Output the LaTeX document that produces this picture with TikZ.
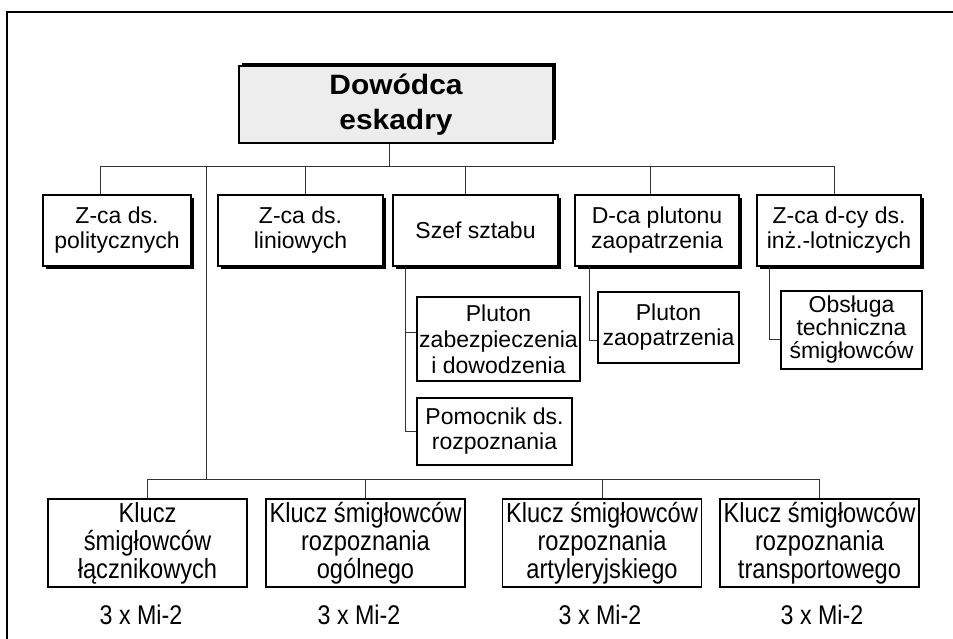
\documentclass[tikz,border=0pt]{standalone}
\usepackage{fontspec}
\setmainfont{Liberation Sans}
\newfontfamily\narrowfont[FakeStretch=0.86]{Liberation Sans}
\newfontfamily\widefont[FakeStretch=1.07]{Liberation Sans}
\usetikzlibrary{shadows}

\tikzset{
  unit/.style={draw, line width=1.3pt, fill=white, align=center, inner sep=0pt,
    font=\fontsize{23}{25}\selectfont},
  staff/.style={unit, minimum height=71pt,
    drop shadow={shadow xshift=3pt, shadow yshift=-3pt, opacity=1, fill=black}},
  chief/.style={unit, fill=black!7, font=\widefont\fontsize{28}{35}\selectfont\bfseries,
    drop shadow={shadow xshift=3pt, shadow yshift=3pt, opacity=1, fill=black}},
  flight/.style={unit, minimum width=199pt, minimum height=88pt,
    font=\narrowfont\fontsize{27.5}{28}\selectfont},
  count/.style={font=\narrowfont\fontsize{27}{28}\selectfont, inner sep=0pt},
  conn/.style={line width=0.8pt, black!80},
}

\begin{document}
\begin{tikzpicture}[x=1pt, y=-1pt]

    \useasboundingbox (0,0) rectangle (953,639);

    % Frame of the scan
    \draw[line width=1.5pt] (7,639) -- (7,12) -- (953,12);

    % Commander
    \node[chief, minimum width=314pt, minimum height=77pt] (chief) at (396,104.5) {Dowódca\\eskadry};

    % Deputies and staff
    \node[staff, minimum width=148pt] (polit) at (117,230.5) {Z-ca ds.\\politycznych};
    \node[staff, minimum width=165pt] (lin) at (300.5,230.5) {Z-ca ds.\\liniowych};
    \node[staff, minimum width=165pt] (szef) at (475.5,230.5) {Szef sztabu};
    \node[staff, minimum width=164pt] (zaop) at (657,230.5) {D-ca plutonu\\zaopatrzenia};
    \node[staff, minimum width=164pt] (inz) at (839,230.5) {Z-ca d-cy ds.\\inż.-lotniczych};

    % Subordinate units
    \node[unit, minimum width=163pt, minimum height=84pt, font=\fontsize{23}{26}\selectfont] (pzd) at (498.5,339) {Pluton\\zabezpieczenia\\i dowodzenia};
    \node[unit, minimum width=155pt, minimum height=67pt] (rozp) at (494.5,431.5) {Pomocnik ds.\\rozpoznania};
    \node[unit, minimum width=141pt, minimum height=71pt] (pzp) at (668.5,327.5) {Pluton\\zaopatrzenia};
    \node[unit, minimum width=141pt, minimum height=78pt, font=\fontsize{23}{23}\selectfont] (obsl) at (851.5,330) {Obsługa\\techniczna\\śmigłowców};

    % Helicopter flights
    \node[flight] (kl) at (147.5,543) {Klucz\\śmigłowców\\łącznikowych};
    \node[flight] (kro) at (365.5,543) {Klucz śmigłowców\\rozpoznania\\ogólnego};
    \node[flight] (kra) at (602,543) {Klucz śmigłowców\\rozpoznania\\artyleryjskiego};
    \node[flight] (krt) at (819.5,543) {Klucz śmigłowców\\rozpoznania\\transportowego};

    % Strength of each flight
    \node[count] (klm) at (141,615) {3 x Mi-2};
    \node[count] (krom) at (359,615) {3 x Mi-2};
    \node[count] (kram) at (600,615) {3 x Mi-2};
    \node[count] (krtm) at (822,615) {3 x Mi-2};

    % Upper bus
    \coordinate (bus) at (389,166);
    \draw[conn] (chief.south -| bus) -- (bus);
    \foreach \n/\dx in {polit/-17, lin/4.5, szef/-10.5, zaop/-7, inz/-5}
        \draw[conn] ([xshift=\dx pt]\n.north) |- (bus);

    % Trunk down to the flights
    \coordinate (trunk) at (206,166);
    \coordinate (lowbus) at (206,479);
    \draw[conn] (trunk) -- (lowbus);
    \foreach \n in {kl,kro,kra,krt}
        \draw[conn] (\n.north) |- (lowbus);

    % Side branches
    \draw[conn] ([xshift=-70.5pt]szef.south) |- ([yshift=7pt]pzd.west);
    \draw[conn] ([xshift=-70.5pt]szef.south) |- (rozp.west);
    \draw[conn] ([xshift=-68pt]zaop.south) |- ([yshift=-12.5pt]pzp.west);
    \draw[conn] ([xshift=-70pt]inz.south) |- ([yshift=-9pt]obsl.west);

\end{tikzpicture}
\end{document}
